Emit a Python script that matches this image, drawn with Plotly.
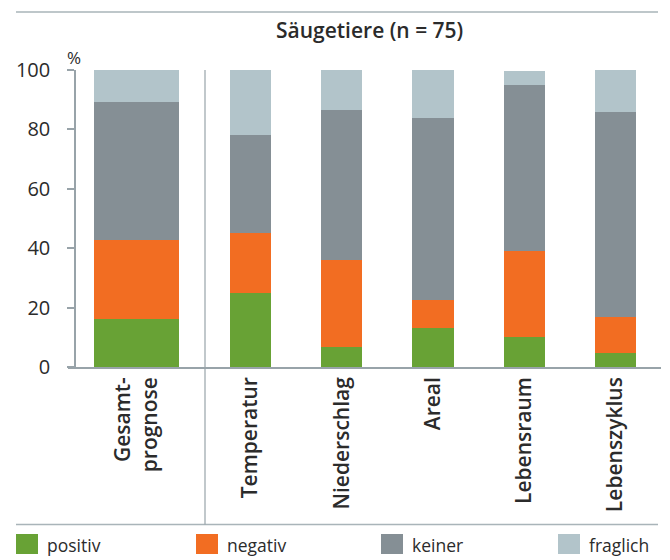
import plotly.graph_objects as go

# ---- data ----
categories = ["Gesamtprognose", "Temperatur", "Niederschlag", "Areal", "Lebensraum", "Lebenszyklus"]
tick_labels = ["Gesamt-<br>prognose", "Temperatur", "Niederschlag", "Areal", "Lebensraum", "Lebenszyklus"]
series_names = ["positiv", "negativ", "keiner", "fraglich"]
positiv = [16.0, 25.0, 6.7, 13.3, 10.0, 4.7]
negativ = [26.7, 20.0, 29.3, 9.3, 29.0, 12.0]
keiner = [46.6, 33.0, 50.7, 61.4, 56.0, 69.3]
fraglich = [10.7, 22.0, 13.3, 16.0, 4.6, 14.0]
y_ticks = [0, 20, 40, 60, 80, 100]
title_text = "Säugetiere (n = 75)"

# ---- style ----
colors = ["#68a235", "#f26d22", "#858f95", "#b2c4ca"]
axis_gray = "#98a3a9"
text_col = "#2b2b2b"
FONT = "Open Sans"

W, H = 670, 560
ML, MR, MT, MB = 68, 9, 70, 193
PW = W - ML - MR
PH = H - MT - MB
split = (205 - ML) / PW


def px(xp):
    return (xp - ML) / PW


def py(yp):
    return (H - MB - yp) / PH


fig = go.Figure()
series = [positiv, negativ, keiner, fraglich]
for name, vals, col in zip(series_names, series, colors):
    fig.add_bar(x=categories[:1], y=vals[:1], xaxis="x", yaxis="y",
                marker=dict(color=col, line=dict(width=0)), width=0.62,
                name=name, showlegend=False, legendgroup=name)
    fig.add_bar(x=categories[1:], y=vals[1:], xaxis="x2", yaxis="y",
                marker=dict(color=col, line=dict(width=0)), width=0.45,
                name=name, showlegend=False, legendgroup=name)

cat_font = dict(family=FONT, size=21, color=text_col, weight=600)
common_x = dict(type="category", anchor="y", showline=True, linecolor=axis_gray,
                linewidth=1.5, ticks="", showgrid=False, zeroline=False,
                tickangle=-90, tickfont=cat_font, ticklabelstandoff=0, fixedrange=True)

fig.update_layout(
    width=W, height=H,
    margin=dict(l=ML, r=MR, t=MT, b=MB, pad=0),
    paper_bgcolor="white", plot_bgcolor="white",
    barmode="stack",
    showlegend=False,
    font=dict(family=FONT, color=text_col),
    xaxis=dict(domain=[0, split], tickvals=categories[:1], ticktext=tick_labels[:1], **common_x),
    xaxis2=dict(domain=[split, 1], tickvals=categories[1:], ticktext=tick_labels[1:], **common_x),
    yaxis=dict(range=[0, 100], anchor="free", position=px(75), showline=True,
               linecolor=axis_gray, linewidth=1.5, ticks="outside", ticklen=7,
               tickwidth=1.5, tickcolor=axis_gray, tickvals=y_ticks,
               tickfont=dict(family=FONT, size=20, color=text_col),
               ticklabelstandoff=13, showgrid=False, zeroline=False),
    yaxis3=dict(range=[0, 100], anchor="free", position=px(75), overlaying="y",
                showline=False, ticks="inside", ticklen=7, tickwidth=1.5,
                tickcolor=axis_gray, tickvals=y_ticks, showticklabels=False,
                showgrid=False, zeroline=False),
)

shapes = []
# top and bottom rules
for yy in (12, 524.5):
    shapes.append(dict(type="line", xref="paper", yref="paper", x0=px(16), x1=px(658),
                       y0=py(yy), y1=py(yy), line=dict(color="#a9b4b9", width=1.5)))
# separator between overall forecast and factors
shapes.append(dict(type="line", xref="paper", yref="paper", x0=split, x1=split,
                   y0=1, y1=py(524.5), line=dict(color=axis_gray, width=1.2)))

annotations = [
    dict(text=title_text, xref="paper", yref="paper", x=px(369), y=py(30),
         xanchor="center", yanchor="middle", showarrow=False,
         font=dict(family=FONT, size=21, color=text_col, weight=600)),
    dict(text="%", xref="paper", yref="paper", x=px(73.5), y=py(58),
         xanchor="center", yanchor="middle", showarrow=False,
         font=dict(family=FONT, size=17, color=text_col)),
]

# manual legend
leg_x = [16, 196, 381, 558]
for name, col, lx in zip(series_names, colors, leg_x):
    shapes.append(dict(type="rect", xref="paper", yref="paper",
                       x0=px(lx), x1=px(lx + 22), y0=py(534), y1=py(554),
                       fillcolor=col, line=dict(width=0)))
    annotations.append(dict(text=name, xref="paper", yref="paper", x=px(lx + 29), y=py(545),
                            xanchor="left", yanchor="middle", showarrow=False,
                            font=dict(family=FONT, size=17.5, color=text_col)))

fig.update_layout(shapes=shapes, annotations=annotations)
fig.write_html("out.html", config={"displayModeBar": False},
               post_script="document.body.style.margin='0px';document.body.style.padding='0px';")
